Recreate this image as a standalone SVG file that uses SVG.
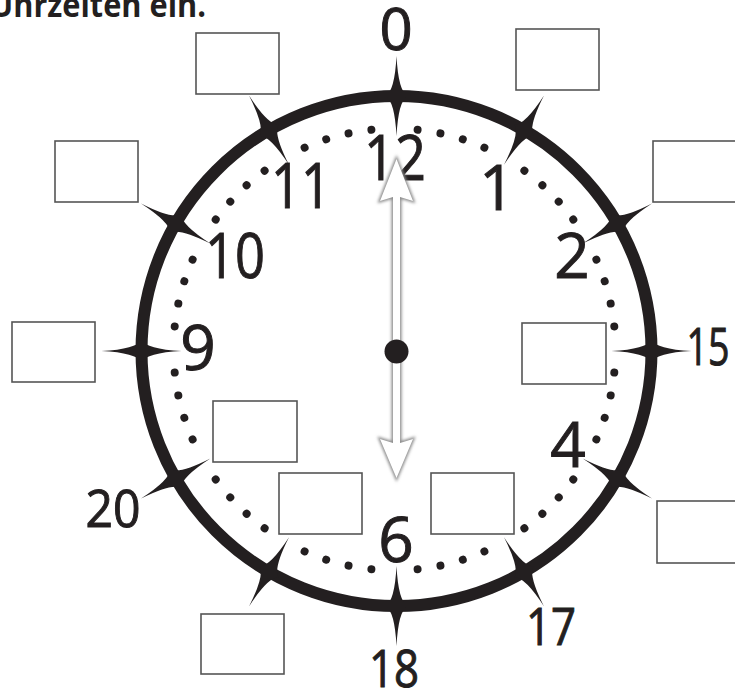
<svg xmlns="http://www.w3.org/2000/svg" xmlns:xlink="http://www.w3.org/1999/xlink" width="735" height="693" viewBox="0 0 735 693">
<style>
.num{font-family:"Open Sans","Liberation Sans",sans-serif;font-weight:400;fill:#231f20;stroke:#231f20;stroke-width:1;text-anchor:middle}
.in{font-size:62px}
.out{font-size:52px}
.box{fill:#fff;stroke:#555;stroke-width:1.6}
.hdr{font-family:"Open Sans","Liberation Sans",sans-serif;font-weight:700;font-size:34px;fill:#231f20}
</style>
<defs>
<path id="star" d="M0 -40 Q1.8 -5 11 0 Q1.8 5 0 40 Q-1.8 5 -11 0 Q-1.8 -5 0 -40Z" fill="#231f20"/>
<circle id="dot" cx="394.5" cy="128.5" r="4" fill="#231f20"/>
<path id="arrow" d="M396.5 159 L413 201 L400 197 L400 443 L413 439 L396.5 478 L380 439 L393 443 L393 197 L380 201 Z"/>
<filter id="blur" x="-50%" y="-10%" width="200%" height="120%">
<feGaussianBlur stdDeviation="1.8"/>
</filter>
</defs>
<rect width="735" height="693" fill="#fff"/>
<text class="hdr" x="-10" y="17" textLength="216" lengthAdjust="spacingAndGlyphs">Uhrzeiten ein.</text>
<g id="clock-face">
<circle cx="396.5" cy="351" r="255" fill="none" stroke="#231f20" stroke-width="12"/>
<g id="minute-dots">
<use href="#dot" transform="rotate(6 394.5 349.5)"/>
<use href="#dot" transform="rotate(12 394.5 349.5)"/>
<use href="#dot" transform="rotate(18 394.5 349.5)"/>
<use href="#dot" transform="rotate(24 394.5 349.5)"/>
<use href="#dot" transform="rotate(36 394.5 349.5)"/>
<use href="#dot" transform="rotate(42 394.5 349.5)"/>
<use href="#dot" transform="rotate(48 394.5 349.5)"/>
<use href="#dot" transform="rotate(54 394.5 349.5)"/>
<use href="#dot" transform="rotate(66 394.5 349.5)"/>
<use href="#dot" transform="rotate(72 394.5 349.5)"/>
<use href="#dot" transform="rotate(78 394.5 349.5)"/>
<use href="#dot" transform="rotate(84 394.5 349.5)"/>
<use href="#dot" transform="rotate(96 394.5 349.5)"/>
<use href="#dot" transform="rotate(102 394.5 349.5)"/>
<use href="#dot" transform="rotate(108 394.5 349.5)"/>
<use href="#dot" transform="rotate(114 394.5 349.5)"/>
<use href="#dot" transform="rotate(126 394.5 349.5)"/>
<use href="#dot" transform="rotate(132 394.5 349.5)"/>
<use href="#dot" transform="rotate(138 394.5 349.5)"/>
<use href="#dot" transform="rotate(144 394.5 349.5)"/>
<use href="#dot" transform="rotate(156 394.5 349.5)"/>
<use href="#dot" transform="rotate(162 394.5 349.5)"/>
<use href="#dot" transform="rotate(168 394.5 349.5)"/>
<use href="#dot" transform="rotate(174 394.5 349.5)"/>
<use href="#dot" transform="rotate(186 394.5 349.5)"/>
<use href="#dot" transform="rotate(192 394.5 349.5)"/>
<use href="#dot" transform="rotate(198 394.5 349.5)"/>
<use href="#dot" transform="rotate(204 394.5 349.5)"/>
<use href="#dot" transform="rotate(216 394.5 349.5)"/>
<use href="#dot" transform="rotate(222 394.5 349.5)"/>
<use href="#dot" transform="rotate(228 394.5 349.5)"/>
<use href="#dot" transform="rotate(234 394.5 349.5)"/>
<use href="#dot" transform="rotate(246 394.5 349.5)"/>
<use href="#dot" transform="rotate(252 394.5 349.5)"/>
<use href="#dot" transform="rotate(258 394.5 349.5)"/>
<use href="#dot" transform="rotate(264 394.5 349.5)"/>
<use href="#dot" transform="rotate(276 394.5 349.5)"/>
<use href="#dot" transform="rotate(282 394.5 349.5)"/>
<use href="#dot" transform="rotate(288 394.5 349.5)"/>
<use href="#dot" transform="rotate(294 394.5 349.5)"/>
<use href="#dot" transform="rotate(306 394.5 349.5)"/>
<use href="#dot" transform="rotate(312 394.5 349.5)"/>
<use href="#dot" transform="rotate(318 394.5 349.5)"/>
<use href="#dot" transform="rotate(324 394.5 349.5)"/>
<use href="#dot" transform="rotate(336 394.5 349.5)"/>
<use href="#dot" transform="rotate(342 394.5 349.5)"/>
<use href="#dot" transform="rotate(348 394.5 349.5)"/>
<use href="#dot" transform="rotate(354 394.5 349.5)"/>
</g>
</g>
<g id="connectors">
<use href="#star" transform="rotate(0 396.5 351) translate(396.5 96)"/>
<use href="#star" transform="rotate(30 396.5 351) translate(396.5 96)"/>
<use href="#star" transform="rotate(60 396.5 351) translate(396.5 96)"/>
<use href="#star" transform="rotate(90 396.5 351) translate(396.5 96)"/>
<use href="#star" transform="rotate(120 396.5 351) translate(396.5 96)"/>
<use href="#star" transform="rotate(150 396.5 351) translate(396.5 96)"/>
<use href="#star" transform="rotate(180 396.5 351) translate(396.5 96)"/>
<use href="#star" transform="rotate(210 396.5 351) translate(396.5 96)"/>
<use href="#star" transform="rotate(240 396.5 351) translate(396.5 96)"/>
<use href="#star" transform="rotate(270 396.5 351) translate(396.5 96)"/>
<use href="#star" transform="rotate(300 396.5 351) translate(396.5 96)"/>
<use href="#star" transform="rotate(330 396.5 351) translate(396.5 96)"/>
</g>
<g id="box-11-outer"><rect class="box" x="196" y="33" width="83" height="61"/></g>
<g id="box-1-outer"><rect class="box" x="516" y="29" width="83" height="61"/></g>
<g id="box-10-outer"><rect class="box" x="55" y="141" width="83" height="61"/></g>
<g id="box-2-outer"><rect class="box" x="653" y="141" width="84" height="61"/></g>
<g id="box-9-outer"><rect class="box" x="12" y="322" width="83" height="60"/></g>
<g id="box-3-inner"><rect class="box" x="522" y="323" width="84" height="61"/></g>
<g id="box-8-inner"><rect class="box" x="213" y="401" width="84" height="61"/></g>
<g id="box-4-outer"><rect class="box" x="657" y="501" width="82" height="62"/></g>
<g id="box-7-inner"><rect class="box" x="279" y="473" width="83" height="61"/></g>
<g id="box-5-inner"><rect class="box" x="431" y="473" width="83" height="61"/></g>
<g id="box-7-outer"><rect class="box" x="201" y="614" width="83" height="60"/></g>
<g id="label-0"><text class="num" x="396" y="50" font-size="58">0</text></g>
<g id="label-12"><text class="num in" x="395" y="180" textLength="62" lengthAdjust="spacingAndGlyphs">12</text></g>
<g id="label-11"><text class="num in" x="301" y="208" textLength="60" lengthAdjust="spacingAndGlyphs">11</text></g>
<g id="label-10"><text class="num in" x="235" y="278" textLength="60" lengthAdjust="spacingAndGlyphs">10</text></g>
<g id="label-9"><text class="num in" x="198" y="370">9</text></g>
<g id="label-1"><text class="num in" x="497" y="210">1</text></g>
<g id="label-2"><text class="num in" x="572" y="278">2</text></g>
<g id="label-4"><text class="num in" x="568" y="467">4</text></g>
<g id="label-6"><text class="num in" x="396" y="562">6</text></g>
<g id="label-15"><text class="num out" x="708" y="365" textLength="43" lengthAdjust="spacingAndGlyphs">15</text></g>
<g id="label-17"><text class="num out" x="551" y="645" textLength="50" lengthAdjust="spacingAndGlyphs">17</text></g>
<g id="label-18"><text class="num out" x="394" y="687" textLength="50" lengthAdjust="spacingAndGlyphs">18</text></g>
<g id="label-20"><text class="num out" x="113" y="527" textLength="55" lengthAdjust="spacingAndGlyphs">20</text></g>
<g id="hand">
<use href="#arrow" fill="#8a8a8a" stroke="#8a8a8a" stroke-width="3" filter="url(#blur)"/>
<use href="#arrow" fill="#fff"/>
<circle cx="396.5" cy="351.5" r="12" fill="#231f20"/>
</g>
</svg>
